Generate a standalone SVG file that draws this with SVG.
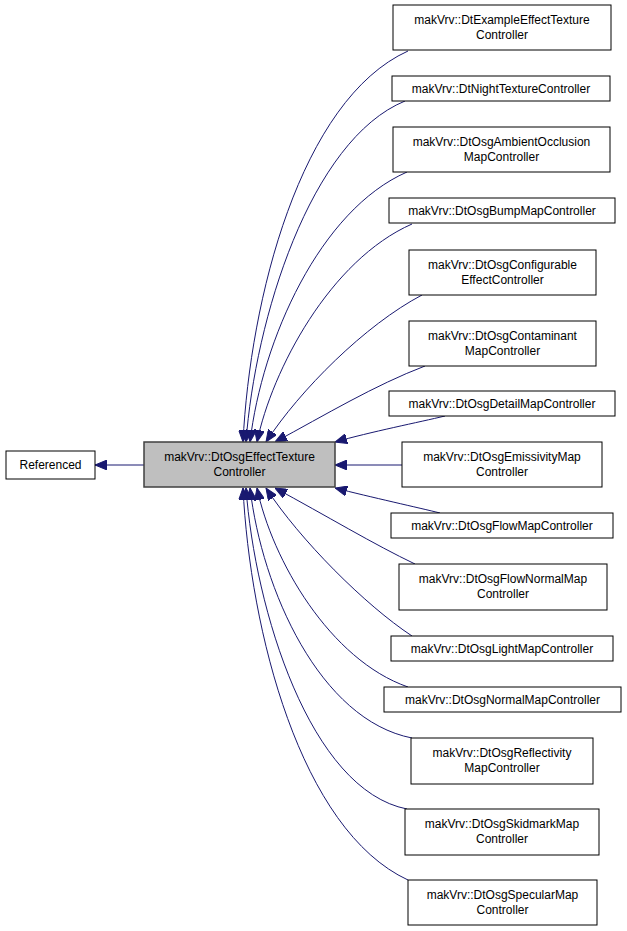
<svg xmlns="http://www.w3.org/2000/svg" width="627" height="931" viewBox="0 0 627 931">
<style>
.n rect{fill:#fff;stroke:#000;stroke-width:1}
.n text{font-family:"Liberation Sans",Arial,sans-serif;font-size:12px;text-anchor:middle;fill:#000}
.e path{fill:none;stroke:#191970;stroke-width:1}
</style>
<defs><marker id="a" markerUnits="userSpaceOnUse" markerWidth="12" markerHeight="10" refX="12" refY="5" orient="auto"><path d="M0,0 L12,5 L0,10 z" fill="#191970" stroke="#191970"/></marker></defs>
<rect width="627" height="931" fill="#fff"/>
<g class="e">
<path d="M144,465 L95,465" marker-end="url(#a)"/>
<path d="M408,51 C300,100 250,300 243,442" marker-end="url(#a)"/>
<path d="M405,101 C310,140 255,320 246,442" marker-end="url(#a)"/>
<path d="M407,172 C320,210 262,340 250,442" marker-end="url(#a)"/>
<path d="M412,224 C330,260 272,370 257,442" marker-end="url(#a)"/>
<path d="M422,295 C365,325 300,390 266,442" marker-end="url(#a)"/>
<path d="M425,366 C375,385 325,415 275,442" marker-end="url(#a)"/>
<path d="M445,416 C420,422 370,432 335,442" marker-end="url(#a)"/>
<path d="M402,465 L335,465" marker-end="url(#a)"/>
<path d="M440,513 C420,508 370,497 335,488" marker-end="url(#a)"/>
<path d="M415,564 C375,545 325,515 275,488" marker-end="url(#a)"/>
<path d="M412,636 C365,605 300,540 266,488" marker-end="url(#a)"/>
<path d="M408,687 C330,660 272,560 257,488" marker-end="url(#a)"/>
<path d="M412,738 C320,720 262,590 250,488" marker-end="url(#a)"/>
<path d="M407,809 C310,790 255,610 246,488" marker-end="url(#a)"/>
<path d="M408,880 C300,830 250,630 243,488" marker-end="url(#a)"/>
</g>
<g id="referenced" class="n"><rect x="6" y="451" width="89" height="28"/><text x="50.5" y="469">Referenced</text></g>
<g id="main" class="n"><rect x="144" y="442" width="191" height="45" style="fill:#bfbfbf;stroke:#404040;stroke-width:1.5"/><text x="239.5" y="461">makVrv::DtOsgEffectTexture</text><text x="239.5" y="476">Controller</text></g>
<g id="c1" class="n"><rect x="393" y="5" width="218" height="45"/><text x="502" y="24">makVrv::DtExampleEffectTexture</text><text x="502" y="39">Controller</text></g>
<g id="c2" class="n"><rect x="392" y="76" width="218" height="25"/><text x="501" y="93">makVrv::DtNightTextureController</text></g>
<g id="c3" class="n"><rect x="393" y="127" width="217" height="45"/><text x="501.5" y="146">makVrv::DtOsgAmbientOcclusion</text><text x="501.5" y="161">MapController</text></g>
<g id="c4" class="n"><rect x="389" y="198" width="226" height="25"/><text x="502" y="215">makVrv::DtOsgBumpMapController</text></g>
<g id="c5" class="n"><rect x="409" y="250" width="187" height="45"/><text x="502.5" y="269">makVrv::DtOsgConfigurable</text><text x="502.5" y="284">EffectController</text></g>
<g id="c6" class="n"><rect x="409" y="321" width="187" height="45"/><text x="502.5" y="340">makVrv::DtOsgContaminant</text><text x="502.5" y="355">MapController</text></g>
<g id="c7" class="n"><rect x="389" y="391" width="226" height="25"/><text x="502" y="408">makVrv::DtOsgDetailMapController</text></g>
<g id="c8" class="n"><rect x="402" y="442" width="200" height="45"/><text x="502" y="461">makVrv::DtOsgEmissivityMap</text><text x="502" y="476">Controller</text></g>
<g id="c9" class="n"><rect x="391" y="513" width="222" height="25"/><text x="502" y="530">makVrv::DtOsgFlowMapController</text></g>
<g id="c10" class="n"><rect x="399" y="564" width="208" height="46"/><text x="503" y="583">makVrv::DtOsgFlowNormalMap</text><text x="503" y="598">Controller</text></g>
<g id="c11" class="n"><rect x="391" y="636" width="222" height="25"/><text x="502" y="653">makVrv::DtOsgLightMapController</text></g>
<g id="c12" class="n"><rect x="384" y="687" width="237" height="25"/><text x="502.5" y="704">makVrv::DtOsgNormalMapController</text></g>
<g id="c13" class="n"><rect x="411" y="738" width="182" height="46"/><text x="502" y="757">makVrv::DtOsgReflectivity</text><text x="502" y="772">MapController</text></g>
<g id="c14" class="n"><rect x="405" y="809" width="194" height="46"/><text x="502" y="828">makVrv::DtOsgSkidmarkMap</text><text x="502" y="843">Controller</text></g>
<g id="c15" class="n"><rect x="408" y="880" width="189" height="45"/><text x="502.5" y="899">makVrv::DtOsgSpecularMap</text><text x="502.5" y="914">Controller</text></g>
</svg>
